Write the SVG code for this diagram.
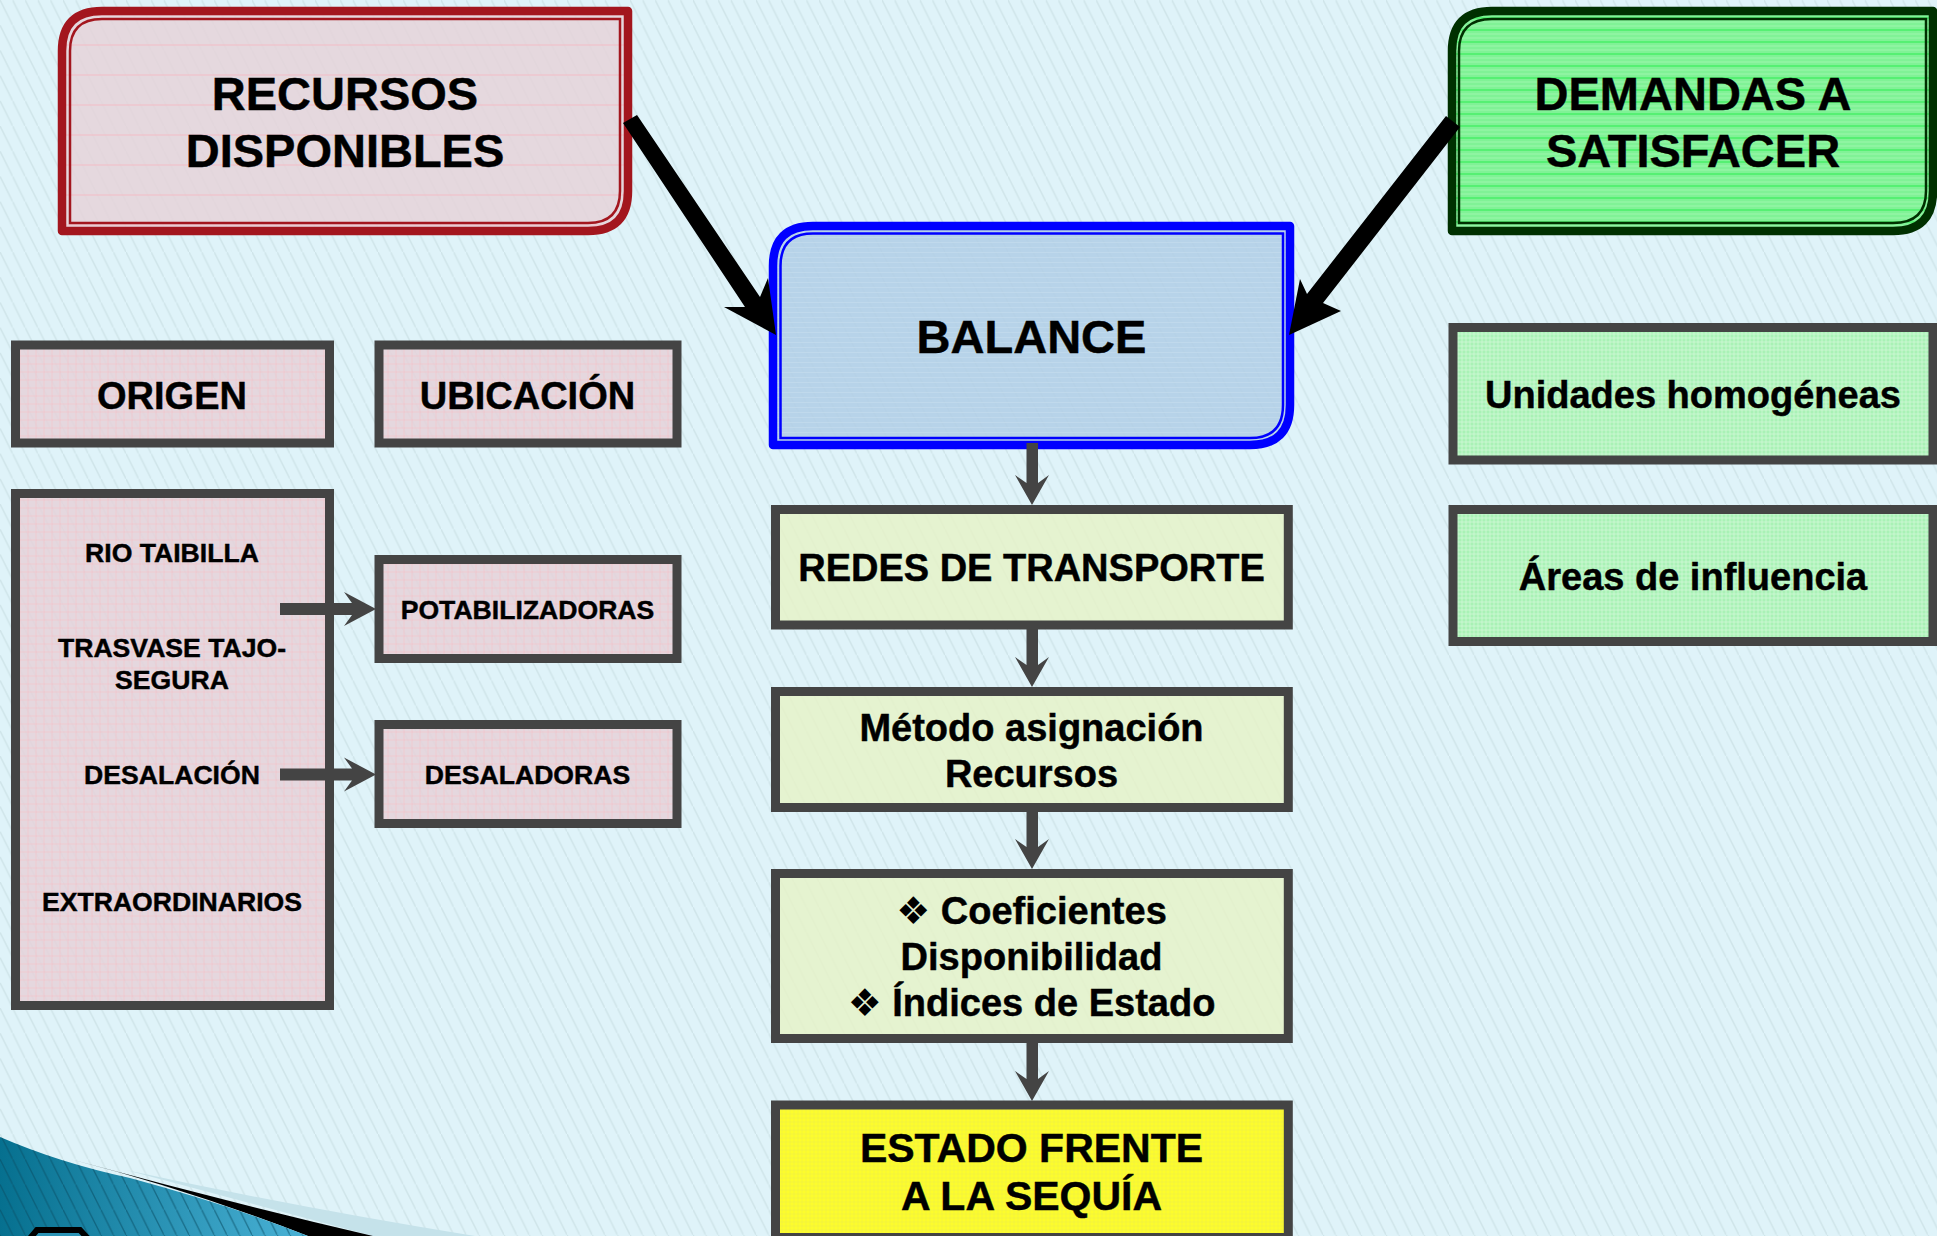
<svg xmlns="http://www.w3.org/2000/svg" width="1937" height="1236" viewBox="0 0 1937 1236">
<style>
text{font-family:"Liberation Sans",Arial,"DejaVu Sans",sans-serif;font-weight:700;fill:#000;text-anchor:middle;stroke:#000;stroke-width:.45px}
.t47{font-size:47px}.t38{font-size:38px}.t41{font-size:41px}.t26{font-size:26.600px}
.b{font-family:"DejaVu Sans",sans-serif;font-size:38px;stroke:none}
.ol{fill:none;stroke-width:8.500;stroke-linejoin:round}
.il{fill:none;stroke-width:2.500}
.box{stroke:#444;stroke-width:9}
.arr{fill:#444}
.blk{fill:#000}
</style>
<defs>
<pattern id="bg" width="12.6" height="25.2" patternUnits="userSpaceOnUse">
<rect width="12.6" height="25.2" fill="#dff3f9"/>
<path d="M-1-2 L13.6 27.2" stroke="#d0e5ea" stroke-width="1.5"/>
</pattern>
<pattern id="pink" width="8" height="8" patternUnits="userSpaceOnUse">
<rect width="8" height="8" fill="#e6d2d9" fill-opacity=".84"/>
<path d="M0 4H8M4 0V8" stroke="#f1c4cb" stroke-width="1" stroke-opacity=".7"/>
</pattern>
<pattern id="pink2" width="6" height="30" patternUnits="userSpaceOnUse">
<rect width="6" height="30" fill="#e6d3d9" fill-opacity=".84"/>
<path d="M0 15H6" stroke="#f4bcc4" stroke-width="1"/>
</pattern>
<pattern id="blue" width="5" height="5" patternUnits="userSpaceOnUse">
<rect width="5" height="5" fill="#b1cee6" fill-opacity=".86"/>
<path d="M0 2.500H5" stroke="#c6ddee" stroke-width="1" stroke-opacity=".6"/>
</pattern>
<pattern id="green" width="5" height="12" patternUnits="userSpaceOnUse">
<rect width="5" height="12" fill="#80f296"/>
<path d="M0 6H5" stroke="#2cef50" stroke-width="1"/>
<path d="M0 2H5M0 10H5" stroke="#9df7ad" stroke-width="1"/>
</pattern>
<pattern id="lgreen" width="4" height="4" patternUnits="userSpaceOnUse">
<rect width="4" height="4" fill="#a4f2b0" fill-opacity=".93"/>
<path d="M0 2H4M2 0V4" stroke="#cff8d6" stroke-width=".8"/>
</pattern>
<pattern id="lime" width="6" height="6" patternUnits="userSpaceOnUse">
<rect width="6" height="6" fill="#e7f3c7" fill-opacity=".82"/>
</pattern>
<pattern id="yellow" width="4" height="4" patternUnits="userSpaceOnUse">
<rect width="4" height="4" fill="#fcfc2c"/>
<path d="M0 2H4M2 0V4" stroke="#f1f142" stroke-width=".7"/>
</pattern>
<linearGradient id="teal" x1="0" y1="0" x2="1" y2="0">
<stop offset="0" stop-color="#06708f"/><stop offset="1" stop-color="#4ab2d6"/>
</linearGradient>
<pattern id="tealhatch" width="12.6" height="25.2" patternUnits="userSpaceOnUse">
<path d="M-1-2 L13.6 27.2" stroke="#0a4f66" stroke-width="1.3" stroke-opacity=".6"/>
</pattern>
</defs>

<rect id="background" width="1937" height="1236" fill="url(#bg)"/>
<g id="corner">
<path d="M126 1170 Q300 1208 475 1236 L373 1236 Z" fill="#c5e2ea"/>
<path d="M70 1159 Q220 1200 373 1236 L308 1236 Q190 1190 70 1159 Z" fill="#000"/>
<path d="M0 1137 Q60 1163 130 1178 Q230 1205 308 1236 L0 1236 Z" fill="url(#teal)"/>
<path d="M0 1137 Q60 1163 130 1178 Q230 1205 308 1236 L0 1236 Z" fill="url(#tealhatch)"/>
<path d="M26 1243 L37 1230 L80 1230 L92 1243" fill="#2b93b5" stroke="#000" stroke-width="6"/>
</g>

<g id="recursos">
<path d="M102 11H628V191Q628 231 588 231H62V51Q62 11 102 11Z" fill="url(#pink2)"/>
<path class="ol" stroke="#a3161e" d="M102 11H628V191Q628 231 588 231H62V51Q62 11 102 11Z"/>
<path class="il" stroke="#a3161e" d="M102 19H620V191Q620 223 588 223H70V51Q70 19 102 19Z"/>
<text class="t47" x="345" y="110">RECURSOS</text>
<text class="t47" x="345" y="167">DISPONIBLES</text>
</g>
<g id="demandas">
<path d="M1492 11H1933V191Q1933 231 1893 231H1452V51Q1452 11 1492 11Z" fill="url(#green)"/>
<path class="ol" stroke="#003000" d="M1492 11H1933V191Q1933 231 1893 231H1452V51Q1452 11 1492 11Z"/>
<path class="il" stroke="#003000" d="M1492 19H1926V191Q1926 223 1893 223H1459V51Q1459 19 1492 19Z"/>
<text class="t47" x="1693" y="110">DEMANDAS A</text>
<text class="t47" x="1693" y="167">SATISFACER</text>
</g>
<g id="balance">
<path d="M813 226H1290V405Q1290 445 1250 445H773V266Q773 226 813 226Z" fill="url(#blue)"/>
<path class="ol" stroke="#0000ff" d="M813 226H1290V405Q1290 445 1250 445H773V266Q773 226 813 226Z"/>
<path class="il" stroke="#0000ff" d="M813 233.500H1283V405Q1283 438 1250 438H780.500V266Q780.500 233.500 813 233.500Z"/>
<text class="t47" x="1031.500" y="353">BALANCE</text>
</g>

<g id="origen"><rect class="box" x="15.500" y="345" width="314" height="98" fill="url(#pink)"/><text class="t38" x="172" y="409">ORIGEN</text></g>
<g id="ubicacion"><rect class="box" x="379" y="345" width="298" height="98" fill="url(#pink)"/><text class="t38" x="527.500" y="409">UBICACIÓN</text></g>
<g id="fuentes"><rect class="box" x="15.500" y="493.500" width="314" height="512" fill="url(#pink)"/>
<text class="t26" x="172" y="562">RIO TAIBILLA</text>
<text class="t26" x="172" y="657">TRASVASE TAJO-</text>
<text class="t26" x="172" y="689">SEGURA</text>
<text class="t26" x="172" y="784">DESALACIÓN</text>
<text class="t26" x="172" y="911">EXTRAORDINARIOS</text>
</g>
<g id="potabilizadoras"><rect class="box" x="379" y="559.500" width="298" height="99" fill="url(#pink)"/><text class="t26" x="527.500" y="619">POTABILIZADORAS</text></g>
<g id="desaladoras"><rect class="box" x="379" y="724.500" width="298" height="99" fill="url(#pink)"/><text class="t26" x="527.500" y="784">DESALADORAS</text></g>

<g id="redes"><rect class="box" x="775.500" y="509.500" width="512.800" height="115.500" fill="url(#lime)"/><text class="t38" x="1031.500" y="581">REDES DE TRANSPORTE</text></g>
<g id="metodo"><rect class="box" x="775.500" y="691.500" width="512.800" height="116" fill="url(#lime)"/>
<text class="t38" x="1031.500" y="741">Método asignación</text>
<text class="t38" x="1031.500" y="787">Recursos</text></g>
<g id="coeficientes"><rect class="box" x="775.500" y="873.500" width="512.800" height="165" fill="url(#lime)"/>
<text class="t38" x="1031.500" y="924"><tspan class="b">❖</tspan> Coeficientes</text>
<text class="t38" x="1031.500" y="970">Disponibilidad</text>
<text class="t38" x="1031.500" y="1016"><tspan class="b">❖</tspan> Índices de Estado</text></g>
<g id="estado"><rect class="box" x="775.500" y="1105" width="512.800" height="132.500" fill="url(#yellow)"/>
<text class="t41" x="1031.500" y="1162">ESTADO FRENTE</text>
<text class="t41" x="1031.500" y="1210">A LA SEQUÍA</text></g>

<g id="unidades"><rect class="box" x="1453" y="327.500" width="480" height="132.500" fill="url(#lgreen)"/><text class="t38" x="1693" y="408">Unidades homogéneas</text></g>
<g id="areas"><rect class="box" x="1453" y="509.500" width="480" height="132" fill="url(#lgreen)"/><text class="t38" x="1693" y="590">Áreas de influencia</text></g>

<g id="connectors">
<path class="blk" d="M623 123 L637 115 L760 297 L768 278 L776 335 L724 307 L745 307 Z"/>
<path class="blk" d="M1446 116 L1460 127 L1323 303 L1341 311 L1289 335 L1300 279 L1307 294 Z"/>
<path class="arr" d="M1026.500 443H1038V483L1049 475L1032 505L1015 475L1026.500 483Z"/>
<path class="arr" d="M1026.500 625H1038V665L1049 657L1032 687L1015 657L1026.500 665Z"/>
<path class="arr" d="M1026.500 808H1038V847L1049 839L1032 869L1015 839L1026.500 847Z"/>
<path class="arr" d="M1026.500 1040H1038V1079L1049 1071L1032 1101L1015 1071L1026.500 1079Z"/>
<path class="arr" d="M280 603H352L344 592L376 609L344 626L352 615H280Z"/>
<path class="arr" d="M280 768.500H352L344 757.500L376 774.500L344 791.500L352 780.500H280Z"/>
</g>
</svg>
